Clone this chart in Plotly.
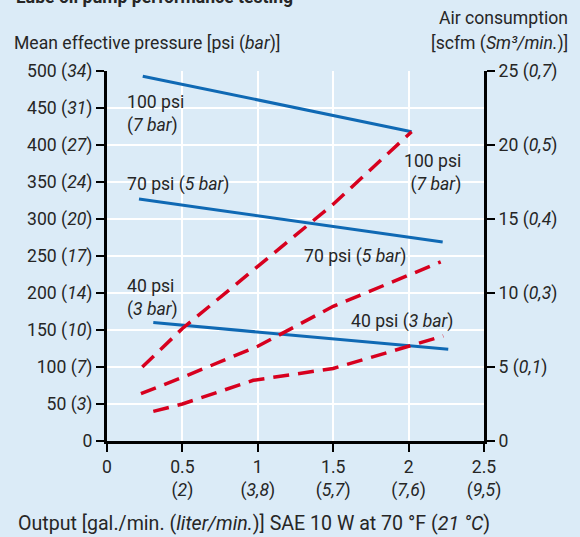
import plotly.graph_objects as go

# Pressure (left axis, psi) vs output (gal/min)
p100_x = [0.237, 2.02]
p100_y = [493, 418]
p70_x = [0.212, 2.226]
p70_y = [327, 269]
p40_x = [0.307, 2.263]
p40_y = [160, 124]

# Air consumption (right axis, scfm)
a100_x = [0.234, 0.5, 1.0, 1.5, 2.02]
a100_y = [5.0, 7.6, 11.8, 16.0, 20.9]
a70_x = [0.225, 0.5, 1.0, 1.5, 2.213]
a70_y = [3.2, 4.3, 6.4, 9.1, 12.1]
a40_x = [0.307, 0.5, 0.97, 1.5, 2.0, 2.23]
a40_y = [2.0, 2.5, 4.1, 4.9, 6.4, 7.1]

x_ticks = [0, 0.5, 1, 1.5, 2, 2.5]
x_labels = ["0", "0.5<br>(<i>2</i>)", "1<br>(<i>3,8</i>)", "1.5<br>(<i>5,7</i>)",
            "2<br>(<i>7,6</i>)", "2.5<br>(<i>9,5</i>)"]
y_ticks = [0, 50, 100, 150, 200, 250, 300, 350, 400, 450, 500]
y_labels = ["0", "50 (<i>3</i>)", "100 (<i>7</i>)", "150 (<i>10</i>)", "200 (<i>14</i>)",
            "250 (<i>17</i>)", "300 (<i>20</i>)", "350 (<i>24</i>)", "400 (<i>27</i>)",
            "450 (<i>31</i>)", "500 (<i>34</i>)"]
y2_ticks = [0, 5, 10, 15, 20, 25]
y2_labels = ["0", "5 (<i>0,1</i>)", "10 (<i>0,3</i>)", "15 (<i>0,4</i>)",
             "20 (<i>0,5</i>)", "25 (<i>0,7</i>)"]

BLUE = "#0f69b4"
RED = "#d7001e"
BG = "#dbebf7"
FONT = "Roboto"
FS = 17.6
TXT = "#262626"

fig = go.Figure()
for xs, ys in [(p100_x, p100_y), (p70_x, p70_y), (p40_x, p40_y)]:
    fig.add_trace(go.Scatter(x=xs, y=ys, mode="lines", line=dict(color=BLUE, width=3),
                             showlegend=False, hoverinfo="skip"))
for xs, ys in [(a100_x, a100_y), (a70_x, a70_y), (a40_x, a40_y)]:
    fig.add_trace(go.Scatter(x=xs, y=ys, mode="lines", yaxis="y2",
                             line=dict(color=RED, width=3.5, dash="16px,9px"),
                             showlegend=False, hoverinfo="skip"))

axis_common = dict(showline=True, linecolor="black", linewidth=3, ticks="outside",
                   ticklen=8, tickwidth=2, tickcolor="black", zeroline=False,
                   tickfont=dict(family=FONT, size=FS, color=TXT))

fig.update_layout(
    width=580, height=537,
    margin=dict(l=107, r=96, t=71, b=96),
    paper_bgcolor=BG, plot_bgcolor=BG,
    font=dict(family=FONT, size=FS, color=TXT),
    xaxis=dict(range=[0, 2.5], tickvals=x_ticks, ticktext=x_labels,
               showgrid=True, gridcolor="white", gridwidth=2, **axis_common),
    yaxis=dict(range=[0, 500], tickvals=y_ticks, ticktext=y_labels,
               showgrid=True, gridcolor="white", gridwidth=2, **axis_common),
    yaxis2=dict(range=[0, 25], tickvals=y2_ticks, ticktext=y2_labels, overlaying="y",
                side="right", showgrid=False, **axis_common),
)

def ann(x, y, text, xanchor="left", align="left", xref="x", yref="y", yanchor="middle",
        size=FS):
    fig.add_annotation(x=x, y=y, xref=xref, yref=yref, text=text, showarrow=False,
                       xanchor=xanchor, align=align, yanchor=yanchor,
                       font=dict(family=FONT, size=size, color=TXT))

ann(0.119, 442, "100 psi<br>(<i>7 bar</i>)")
ann(0.119, 346, "70 psi (<i>5 bar</i>)")
ann(0.119, 193, "40 psi<br>(<i>3 bar</i>)")
ann(2.36, 362, "100 psi<br>(<i>7 bar</i>)", xanchor="right", align="right")
ann(1.293, 249, "70 psi (<i>5 bar</i>)")
ann(1.605, 161, "40 psi (<i>3 bar</i>)")

# axis titles
ann(-95 / 377, (441 - 43) / 370, "Mean effective pressure [psi (<i>bar</i>)]",
    xref="paper", yref="paper")
ann((570 - 107) / 377, (441 - 18) / 370, "Air consumption", xanchor="right", align="right",
    xref="paper", yref="paper")
ann((570 - 107) / 377, (441 - 43) / 370, "[scfm (<i>Sm³/min.</i>)]",
    xanchor="right", align="right", xref="paper", yref="paper")
ann((16 - 107) / 377, (441 - 523) / 370,
    "Output [gal./min. (<i>liter/min.</i>)] SAE 10 W at 70 °F (<i>21 °C</i>)",
    xref="paper", yref="paper", size=19.6)
# clipped title at top (the reference shows it cut off at the top edge)
ann((295 - 107) / 377, (441 - 9) / 370, "<b>Lube oil pump performance testing</b>",
    xanchor="right", xref="paper", yref="paper", yanchor="bottom")

fig.write_html("out.html", config={"displayModeBar": False},
               post_script="document.body.style.margin='0';")
